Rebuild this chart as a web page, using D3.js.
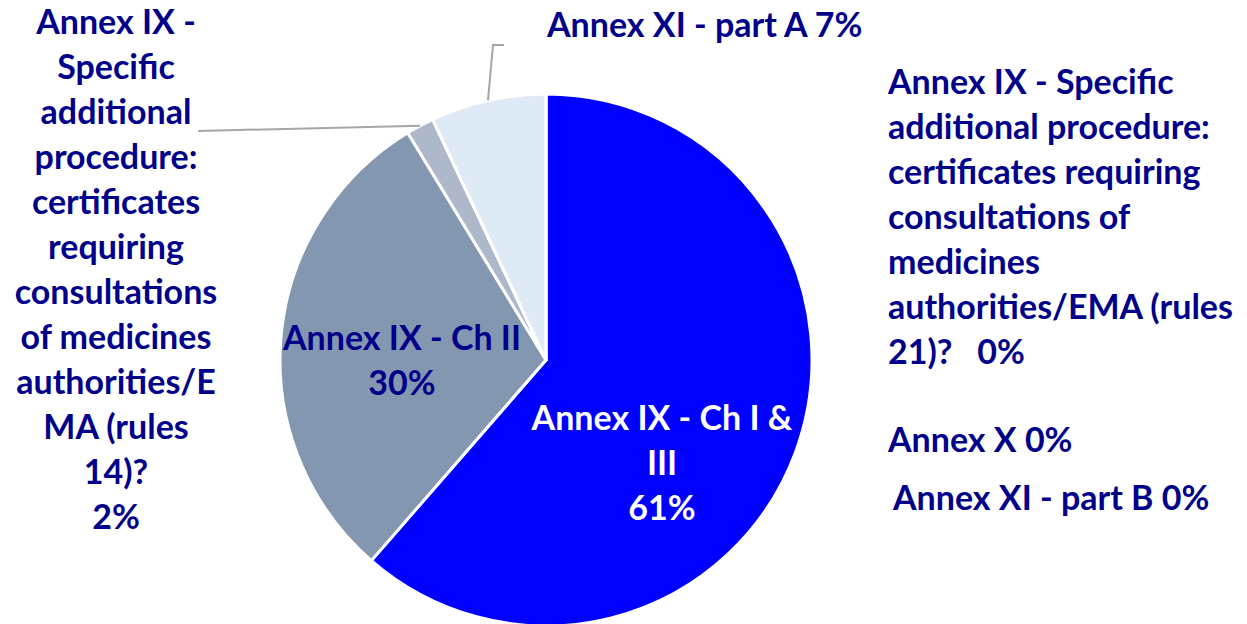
<!DOCTYPE html>
<html>
<head>
<meta charset="utf-8">
<script src="https://cdn.jsdelivr.net/npm/d3@7"></script>
<style>
  html, body { margin: 0; padding: 0; background: #fff; }
  svg { display: block; }
  text { font-family: Lato, "Open Sans", sans-serif; font-weight: bold; }
</style>
</head>
<body>
<div id="chart"></div>
<script>
// data
var categories = [
    "Annex IX - Ch I & III",
    "Annex IX - Ch II",
    "Annex IX - Specific additional procedure: certificates requiring consultations of medicines authorities/EMA (rules 14)?",
    "Annex IX - Specific additional procedure: certificates requiring consultations of medicines authorities/EMA (rules 21)?",
    "Annex X",
    "Annex XI - part A",
    "Annex XI - part B"
];
var values = [61.4, 29.9, 1.7, 0, 0, 7.0, 0];
var pctLabels = ["61%", "30%", "2%", "0%", "0%", "7%", "0%"];
var colors = ["#0000FF", "#8497B0", "#ADB9CA", "#D6DCE5", "#C9D3E2", "#DEEAF6", "#BDD7EE"];

// label text as it is wrapped in the picture
var labelLines = [
    ["Annex IX - Ch I &", "III", "61%"],
    ["Annex IX - Ch II", "30%"],
    ["Annex IX -", "Specific", "additional", "procedure:", "certificates", "requiring", "consultations", "of medicines", "authorities/E", "MA (rules", "14)?", "2%"],
    ["Annex IX - Specific", "additional procedure:", "certificates requiring", "consultations of", "medicines", "authorities/EMA (rules", "21)?   0%"],
    ["Annex X 0%"],
    ["Annex XI - part A 7%"],
    ["Annex XI - part B 0%"]
];

// layout of the labels (x, y of first line, anchor, colour)
var labelPos = [
    {x: 662, y: 418, anchor: "middle", fill: "#ffffff"},
    {x: 402, y: 338, anchor: "middle", fill: "#00008B"},
    {x: 116, y: 22, anchor: "middle", fill: "#00008B"},
    {x: 888, y: 82, anchor: "start", fill: "#00008B"},
    {x: 888, y: 440, anchor: "start", fill: "#00008B"},
    {x: 547, y: 25, anchor: "start", fill: "#00008B"},
    {x: 893, y: 498, anchor: "start", fill: "#00008B"}
];

var width = 1247, height = 624;
var cx = 546, cy = 360, radius = 266;
var lineH = 45, fontSize = 34;

var svg = d3.select("#chart")
        .append("svg")
        .attr("width", width)
        .attr("height", height);

var pie = d3.pie().sort(null).value(function (d) { return d; });
var arcs = pie(values);
var arc = d3.arc().innerRadius(0).outerRadius(radius);

var g = svg.append("g").attr("transform", "translate(" + cx + "," + cy + ")");

g.selectAll("path.slice")
        .data(arcs)
        .enter().append("path")
        .attr("class", "slice")
        .attr("d", arc)
        .style("fill", function (d, i) { return colors[i]; })
        .style("stroke", "#ffffff")
        .style("stroke-width", 3)
        .style("stroke-linejoin", "round");

// leader lines for the two small slices
function outerPoint(d) {
    var a = (d.startAngle + d.endAngle) / 2;
    return [cx + radius * Math.sin(a), cy - radius * Math.cos(a)];
}
var p14 = outerPoint(arcs[2]);
svg.append("path")
        .attr("d", d3.line()([[198, 131], p14]))
        .style("fill", "none").style("stroke", "#A6A6A6").style("stroke-width", 2);
var pA = outerPoint(arcs[5]);
svg.append("path")
        .attr("d", d3.line()([pA, [493, 45], [504, 45]]))
        .style("fill", "none").style("stroke", "#A6A6A6").style("stroke-width", 2);

// labels
labelLines.forEach(function (lines, i) {
    var p = labelPos[i];
    var t = svg.append("text")
            .attr("text-anchor", p.anchor)
            .style("font-size", fontSize + "px")
            .style("fill", p.fill);
    lines.forEach(function (s, j) {
        t.append("tspan")
                .attr("x", p.x)
                .attr("y", p.y + j * lineH)
                .attr("dy", "0.35em")
                .attr("xml:space", "preserve")
                .text(s);
    });
});
</script>
</body>
</html>
